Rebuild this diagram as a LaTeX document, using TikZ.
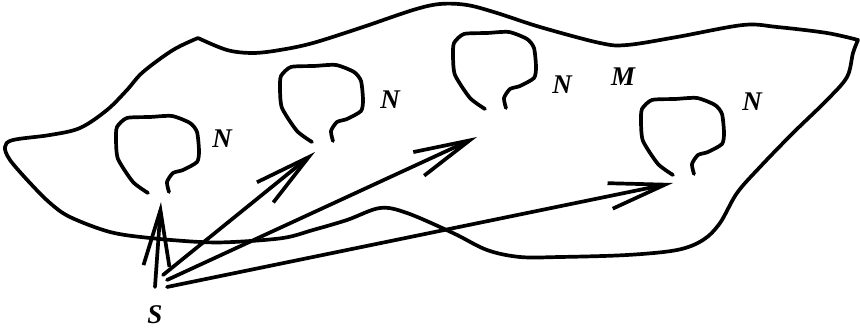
\documentclass[tikz,border=0pt]{standalone}
\usepackage{fontspec}
\setmainfont{Liberation Serif}
\usetikzlibrary{arrows.meta}

\begin{document}
\begin{tikzpicture}[x=1pt, y=-1pt,
  >={Straight Barb[length=56pt, width=26pt]},
  curve/.style={line width=3.7pt, line cap=round, line join=round},
  lbl/.style={font=\fontsize{27}{27}\selectfont\bfseries\itshape, inner sep=0pt},
  pics/nloop/.style={code={
    \draw[curve] plot[smooth, tension=0.4] coordinates {
      (0,0) (-15,-11) (-30,-34) (-32,-53) (-31,-66) (-21,-75) (2,-76)
      (24,-77) (42,-70) (49,-61) (51,-42) (49,-31) (35,-23) (25,-20)
      (19,-11) (21,-1)};}}]
  \useasboundingbox (0,0) rectangle (860,331);

  % the manifold M
  \draw[curve] plot[smooth, tension=0.55] coordinates {
      (198,38) (227,50) (253,53) (280,50) (313,43) (363,27) (413,10)
      (440,4) (467,5) (497,13) (540,27) (600,43) (627,45) (677,37)
      (743,25) (777,27) (827,33) (858,40)}
    -- plot[smooth, tension=0.55] coordinates {
      (858,40) (853,53) (847,77) (827,100) (793,133) (760,167) (737,193)
      (720,223) (703,240) (677,250) (627,255) (560,257) (520,257)
      (487,250) (453,233) (407,213) (380,208) (347,220) (313,230)
      (283,238) (233,242) (200,242) (150,238) (110,232) (70,217)
      (50,203) (30,183) (10,160) (5,147) (13,140) (50,135) (80,128)
      (107,110) (127,90) (143,72) (173,50) (198,38)};

  % the submanifolds N
  \pic at (148,193) {nloop};
  \pic at (312,142) {nloop};
  \pic at (485,109) {nloop};
  \pic at (673,175) {nloop};

  \node[lbl] (n1) at (222,139) {N};
  \node[lbl] (n2) at (390,100) {N};
  \node[lbl] (n3) at (562,85) {N};
  \node[lbl] (n4) at (752,102) {N};
  \node[lbl] (m) at (623,77) {M};
  \node[lbl] (s) at (155,315) {S};

  \coordinate (s1) at (155,287);
  \coordinate (s2) at (163,275);
  \coordinate (s3) at (167,280);
  \coordinate (s4) at (167,287);
  \coordinate (t1) at (161,202);
  \coordinate (t2) at (315,152);
  \coordinate (t3) at (477,137);
  \coordinate (t4) at (673,183);

  \draw[curve, ->] (s1) -- (t1);
  \draw[curve, ->] (s2) -- (t2);
  \draw[curve, ->] (s3) -- (t3);
  \draw[curve, ->] (s4) -- (t4);
\end{tikzpicture}
\end{document}
